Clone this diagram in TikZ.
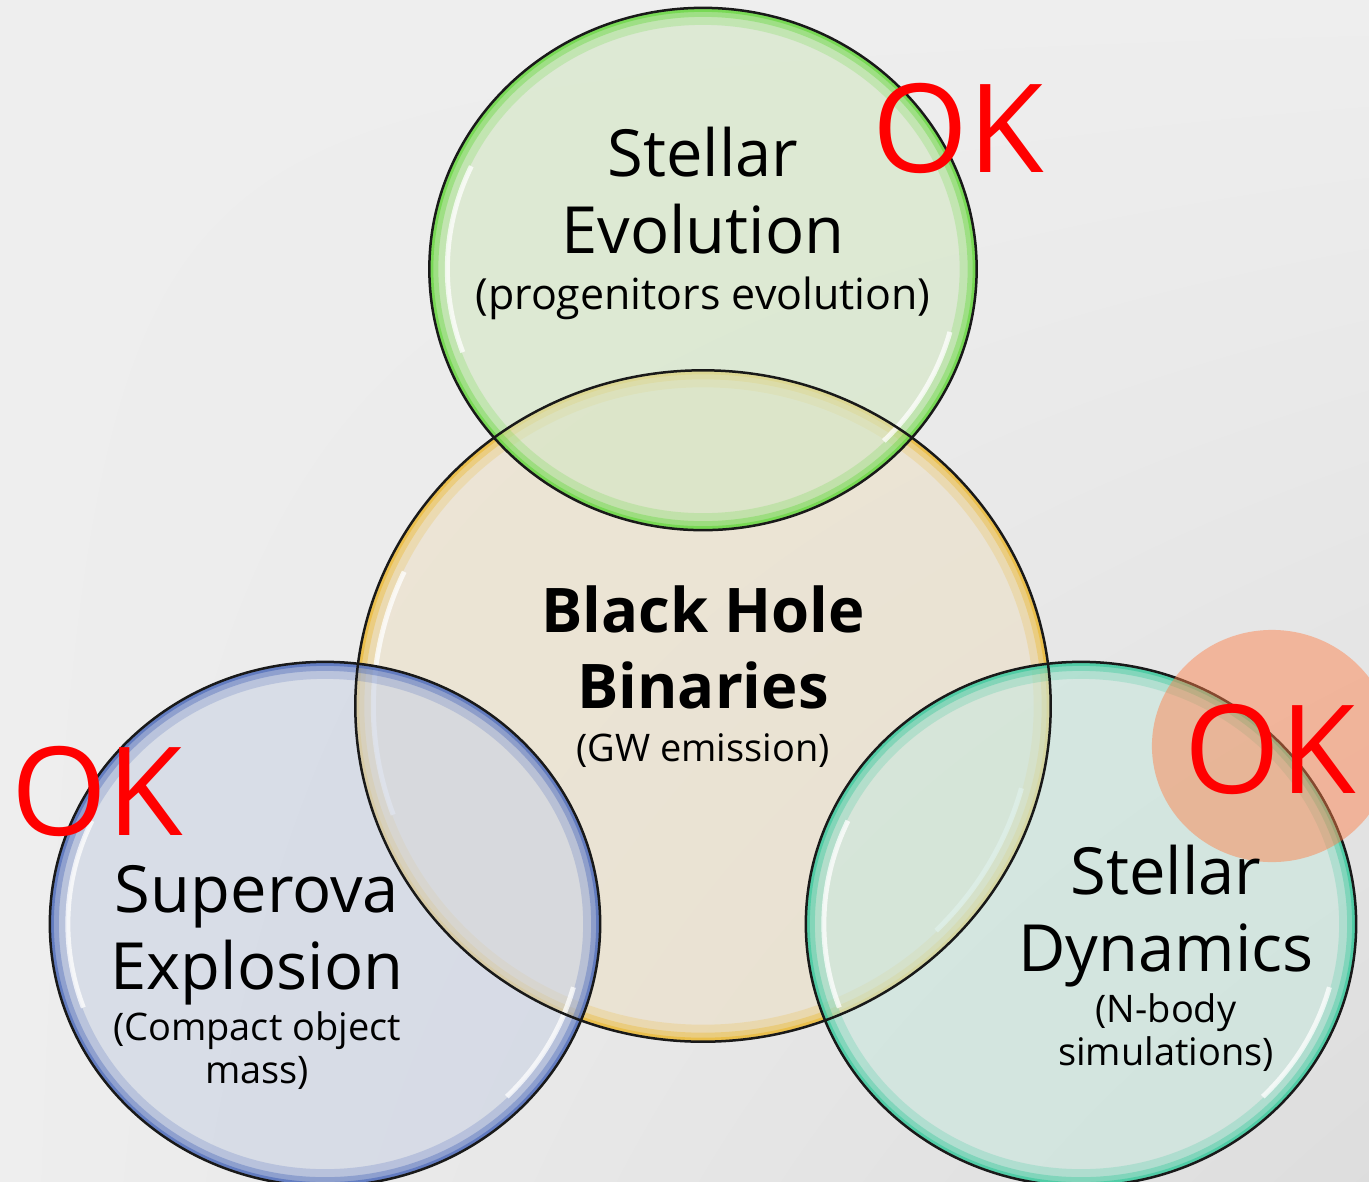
\documentclass[tikz,border=0pt]{standalone}
\usepackage{fontspec}
\setmainfont{Open Sans}
\usetikzlibrary{shapes.geometric,positioning,calc,shadings}

\definecolor{bgcol}{RGB}{238,238,238}
\definecolor{evofill}{RGB}{211,231,195}
\definecolor{evoglow}{RGB}{100,215,60}
\definecolor{bhbfill}{RGB}{236,224,198}
\definecolor{bhbglow}{RGB}{235,185,50}
\definecolor{snfill}{RGB}{203,211,228}
\definecolor{snglow}{RGB}{75,105,185}
\definecolor{dynfill}{RGB}{201,231,221}
\definecolor{dynglow}{RGB}{55,200,155}
\definecolor{okspotcol}{RGB}{255,127,72}
\definecolor{okred}{RGB}{255,0,0}

\tikzset{
  bubble/.style 2 args={ellipse, fill=#1, fill opacity=0.6, inner sep=0pt,
    path picture={
      \draw[#2, line width=3.4mm, opacity=0.22] let \p1=($(path picture bounding box.north east)-(path picture bounding box.center)$) in
        (path picture bounding box.center) ellipse [x radius=\x1, y radius=\y1];
      \draw[#2, line width=1.8mm, opacity=0.38] let \p1=($(path picture bounding box.north east)-(path picture bounding box.center)$) in
        (path picture bounding box.center) ellipse [x radius=\x1, y radius=\y1];
      \draw[#2, line width=0.8mm, opacity=0.65] let \p1=($(path picture bounding box.north east)-(path picture bounding box.center)$) in
        (path picture bounding box.center) ellipse [x radius=\x1, y radius=\y1];
      % white shine
      \draw[white, line width=0.5mm, opacity=0.75] let \p1=($(path picture bounding box.north east)-(path picture bounding box.center)$) in
        ($(path picture bounding box.center)+(155:\x1-1.8mm and \y1-1.8mm)$) arc[start angle=155, end angle=200, x radius=\x1-1.8mm, y radius=\y1-1.8mm];
      \draw[white, line width=0.5mm, opacity=0.75] let \p1=($(path picture bounding box.north east)-(path picture bounding box.center)$) in
        ($(path picture bounding box.center)+(-45:\x1-1.8mm and \y1-1.8mm)$) arc[start angle=-45, end angle=-15, x radius=\x1-1.8mm, y radius=\y1-1.8mm];
    }},
  rim/.style={draw=black!90, line width=0.25mm},
  title/.style={align=center, inner sep=0pt, font=\fontsize{18.5}{21.9}\selectfont},
  btitle/.style={title, font=\fontsize{17.5}{21.6}\selectfont\bfseries},
  subtitle/.style={align=center, inner sep=0pt, font=\fontsize{10.8}{12.2}\selectfont},
  oktext/.style={text=okred, inner sep=0pt, font=\fontsize{35}{40}\selectfont},
}

\begin{document}
\begin{tikzpicture}[x=0.01cm, y=-0.01cm]
\useasboundingbox (0,0) rectangle (1369,1181);
\shade[upper left=bgcol, upper right=bgcol, lower left=bgcol, lower right=bgcol!93!black] (0,0) rectangle (1369,1181);

% circles
\node[bubble={bhbfill}{bhbglow}, minimum width=6.95cm, minimum height=6.71cm] (bhb) at (703,706) {};
\node[bubble={evofill}{evoglow}, minimum width=5.47cm, minimum height=5.22cm] (evo) at (703,269) {};
\node[bubble={snfill}{snglow}, minimum width=5.5cm, minimum height=5.24cm] (sn) at (325,924) {};
\node[bubble={dynfill}{dynglow}, minimum width=5.5cm, minimum height=5.24cm] (dyn) at (1081,924) {};

% outlines on top of all fills
\foreach \c/\rx/\ry in {bhb/3.475/3.355, evo/2.735/2.61, sn/2.75/2.62, dyn/2.75/2.62}
  \draw[rim] (\c.center) ellipse [x radius=\rx cm, y radius=\ry cm];

\node[ellipse, fill=okspotcol, fill opacity=0.47, minimum width=2.4cm, minimum height=2.32cm] (okspot) at (1272,746) {};

% labels
\node[title, anchor=north] (evotitle) at (703,126) {Stellar\\Evolution};
\node[subtitle, font=\fontsize{12.2}{13}\selectfont, below=2.2mm of evotitle] (evosub) {(progenitors evolution)};

\node[btitle, anchor=north] (bhbtitle) at (703,585) {Black Hole\\Binaries};
\node[subtitle, below=2.3mm of bhbtitle] (bhbsub) {(GW emission)};

\node[title, anchor=north] (sntitle) at (257,865) {Superova\\Explosion};
\node[subtitle, below=0.45mm of sntitle] (snsub) {(Compact object\\mass)};

\node[title, anchor=north] (dyntitle) at (1166,844) {Stellar\\Dynamics};
\node[subtitle, below=0.55mm of dyntitle] (dynsub) {(N-body\\simulations)};

\node[oktext, anchor=base] (okevo) at (958,172) {OK};
\node[oktext, anchor=base] (oksn) at (97,835) {OK};
\node[oktext, anchor=base] (okdyn) at (1270,793) {OK};

\end{tikzpicture}
\end{document}
